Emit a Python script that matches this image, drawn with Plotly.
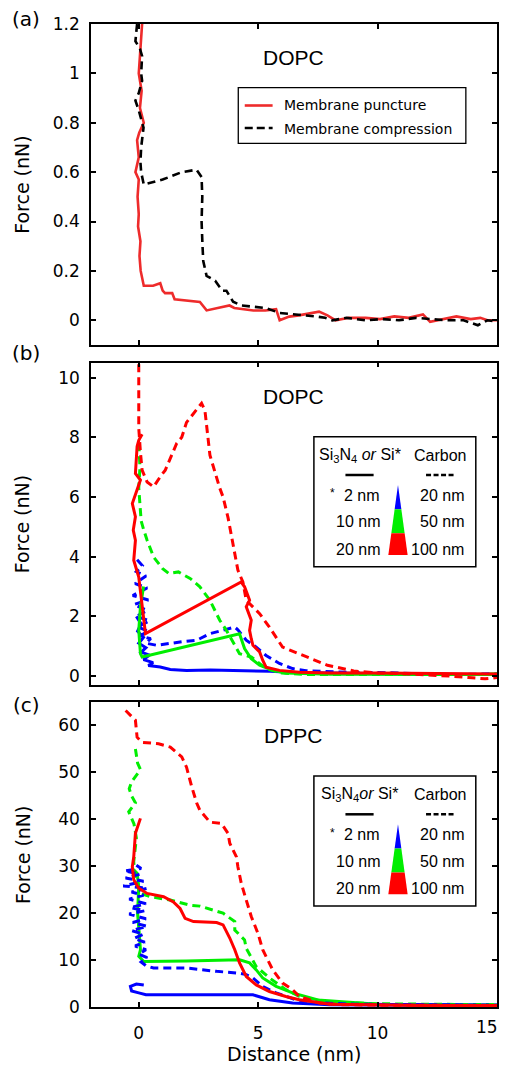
import plotly.graph_objects as go

# ---------------- data ----------------
# Panel (a) DOPC
a_punct_x = [0.14, 0.08, 0.0, 0.12, 0.05, 0.21, 0.02, -0.07, 0.0, -0.14, 0.0, -0.05, 0.0, -0.03, 0.07, 0.03, 0.08, 0.21,
             0.6, 0.9, 1.0, 1.1, 1.4, 1.5, 2.0, 2.56, 2.84, 3.3, 3.8, 4.0, 4.5, 4.8, 5.3, 5.75, 5.9, 6.3, 6.7, 7.2,
             7.55, 7.9, 8.24, 8.8, 9.5, 10.1, 10.7, 11.3, 11.9, 12.2, 12.8, 13.3, 13.9, 14.3, 14.6, 15.0]
a_punct_y = [1.2, 1.1, 1.0, 0.93, 0.86, 0.8, 0.76, 0.73, 0.66, 0.6, 0.57, 0.5, 0.43, 0.38, 0.32, 0.26, 0.2, 0.14,
             0.14, 0.15, 0.12, 0.11, 0.11, 0.085, 0.08, 0.074, 0.04, 0.05, 0.06, 0.05, 0.045, 0.04, 0.04, 0.045, 0.0,
             0.015, 0.02, 0.03, 0.035, 0.02, 0.0, 0.01, 0.01, 0.005, 0.016, 0.01, 0.024, -0.006, 0.005, 0.016, 0.005,
             0.01, 0.0, 0.0]
a_comp_x = [-0.07, -0.14, 0.05, 0.14, 0.1, 0.14, 0.0, -0.14, 0.0, 0.2, 0.1, 0.07, 0.1, 0.21, 1.0, 1.8, 2.42, 2.63,
            2.66, 2.63, 2.67, 2.7, 2.84, 3.2, 3.5, 3.67, 3.95, 4.3, 4.8, 5.3, 5.9, 6.5, 7.0, 7.4, 7.8, 8.1, 8.7,
            9.5, 10.2, 10.9, 11.6, 12.2, 12.9, 13.6, 14.2, 14.6, 15.0]
a_comp_y = [1.2, 1.13, 1.1, 1.07, 1.0, 0.97, 0.92, 0.89, 0.85, 0.78, 0.7, 0.64, 0.6, 0.55, 0.57, 0.6, 0.61, 0.58,
            0.5, 0.4, 0.3, 0.24, 0.18, 0.16, 0.12, 0.12, 0.075, 0.06, 0.055, 0.05, 0.03, 0.025, 0.02, 0.016, 0.01,
            0.0, 0.01, 0.0, 0.005, 0.0, 0.01, 0.005, 0.0, 0.0, -0.02, 0.0, -0.005]

# Panel (b) DOPC
b_red_dash_x = [0.0, 0.0, 0.0, 0.07, 0.14, 0.35, 0.49, 0.62, 0.9, 1.11, 1.59, 1.8, 2.0, 2.63, 2.77, 2.98, 3.39, 3.53,
                3.74, 3.95, 4.15, 4.36, 4.5, 5.06, 5.47, 6.02, 6.86, 7.9, 9.0, 10.0, 11.0, 12.0, 13.0, 13.8, 14.5, 15.0]
b_red_dash_y = [10.45, 9.4, 8.3, 7.5, 6.9, 6.5, 6.4, 6.34, 6.68, 6.9, 7.8, 8.0, 8.5, 9.14, 8.9, 7.4, 6.3, 6.0,
                5.3, 4.4, 3.55, 3.15, 2.54, 2.09, 1.64, 0.97, 0.69, 0.36, 0.17, 0.1, 0.08, 0.05, 0.0, -0.05, -0.09, -0.05]
b_red_sol_x = [0.14, 0.0, -0.07, -0.14, 0.07, -0.1, -0.27, -0.14, -0.23, -0.14, -0.21, 0.0, 0.14, 0.28, 4.29, 4.43,
               4.64, 4.5, 4.71, 4.64, 4.71, 4.78, 5.06, 5.19, 5.33, 5.89, 6.72, 8.0, 10.0, 12.0, 14.0, 15.0]
b_red_sol_y = [8.1, 7.9, 7.69, 6.79, 6.57, 6.2, 5.78, 5.34, 4.89, 4.55, 3.88, 3.32, 2.43, 1.42, 3.15, 2.99,
               2.54, 2.32, 1.87, 1.53, 1.25, 1.03, 0.81, 0.53, 0.3, 0.19, 0.13, 0.1, 0.1, 0.08, 0.07, 0.07]
b_grn_dash_x = [0.0, 0.05, 0.0, 0.05, 0.1, 0.21, 0.35, 0.62, 1.0, 1.25, 1.66, 2.15, 2.56, 2.98, 3.39, 3.67, 4.02,
                4.22, 4.71, 5.06, 5.33, 6.0, 7.0, 8.0, 10.0, 12.0, 14.0, 15.0]
b_grn_dash_y = [7.8, 7.0, 6.3, 5.6, 5.2, 4.89, 4.55, 3.99, 3.6, 3.44, 3.49, 3.27, 2.99, 2.54, 1.87, 1.53, 1.03,
                0.75, 0.64, 0.42, 0.25, 0.1, 0.05, 0.05, 0.05, 0.03, 0.05, 0.08]
b_grn_sol_x = [0.2, 0.07, 0.0, 0.07, 0.14, 4.22, 4.29, 4.43, 4.71, 5.06, 5.61, 6.16, 8.0, 10.0, 12.0, 15.0]
b_grn_sol_y = [3.0, 2.32, 1.53, 0.75, 0.64, 1.42, 1.25, 0.92, 0.58, 0.36, 0.19, 0.1, 0.06, 0.05, 0.05, 0.05]
b_blu_sol_x = [-0.1, 0.1, -0.05, 0.2, 0.0, 0.3, 0.1, 0.45, 0.2, 0.6, 0.4, 0.9, 1.32, 2.0, 3.0, 4.0, 5.0, 5.5, 6.5,
               8.0, 10.0, 12.0, 15.0]
b_blu_sol_y = [2.0, 1.75, 1.5, 1.3, 1.1, 0.95, 0.8, 0.7, 0.55, 0.45, 0.35, 0.3, 0.22, 0.19, 0.2, 0.19, 0.19, 0.16,
               0.12, 0.1, 0.08, 0.06, 0.05]
b_blu_dash_x = [-0.07, 0.15, -0.1, 0.3, -0.15, 0.35, -0.25, 0.4, -0.2, 0.35, -0.1, 0.45, -0.05, 0.4, 0.05, 0.5, 0.3,
                0.76, 1.8, 2.43, 2.98, 3.53, 4.02, 4.15, 4.5, 4.92, 5.33, 5.89, 6.44, 7.0, 8.0, 9.0, 10.0, 11.0, 12.0,
                13.0, 14.0, 15.0]
b_blu_dash_y = [3.9, 3.7, 3.5, 3.35, 3.1, 2.95, 2.7, 2.55, 2.4, 2.2, 2.0, 1.85, 1.65, 1.5, 1.35, 1.25, 1.1, 1.03,
                1.15, 1.2, 1.42, 1.53, 1.64, 1.55, 1.2, 0.97, 0.69, 0.42, 0.25, 0.18, 0.15, 0.12, 0.12, 0.1, 0.08,
                0.05, 0.06, 0.08]

# Panel (c) DPPC
c_red_dash_x = [-0.55, -0.14, -0.07, 0.14, 0.83, 1.32, 1.8, 2.0, 2.22, 2.43, 2.56, 2.98, 3.46, 3.74, 3.81, 4.09,
                4.15, 4.29, 4.5, 4.71, 4.99, 5.19, 5.61, 6.02, 6.44, 6.72, 7.55, 8.5, 10.0, 12.0, 14.0, 15.0]
c_red_dash_y = [63.2, 61.1, 57.5, 56.4, 56.1, 55.4, 53.3, 51.1, 46.9, 43.4, 41.9, 39.4, 39.1, 37.0, 34.9, 32.0,
                29.9, 26.4, 22.8, 19.3, 15.7, 12.2, 7.9, 5.1, 3.7, 2.25, 0.85, 0.5, 0.4, 0.3, 0.3, 0.3]
c_grn_dash_x = [-0.14, -0.05, 0.07, -0.3, -0.4, -0.3, -0.14, -0.42, -0.2, -0.1, -0.21, -0.15, 0.07, 0.5, 1.32, 2.15,
                2.56, 3.26, 3.53, 4.02, 4.02, 4.43, 4.5, 4.92, 5.47, 6.16, 6.72, 8.0, 10.0, 12.0, 15.0]
c_grn_dash_y = [55.0, 52.0, 50.6, 48.0, 46.5, 45.0, 43.5, 41.6, 39.0, 36.0, 31.0, 27.0, 24.2, 23.5, 22.8, 21.7,
                21.5, 20.3, 20.0, 18.2, 16.4, 14.3, 12.5, 8.6, 6.2, 3.7, 2.25, 1.0, 0.7, 0.6, 0.5]
c_red_sol_x = [0.07, -0.05, -0.14, -0.21, -0.27, -0.21, 0.0, 0.35, 1.04, 1.45, 1.73, 1.94, 2.29, 3.26, 3.53, 3.81,
               4.02, 4.22, 4.5, 4.92, 5.47, 6.16, 6.72, 8.0, 10.0, 12.0, 15.0]
c_red_sol_y = [40.2, 38.5, 37.0, 32.0, 29.9, 27.1, 25.3, 24.2, 23.5, 22.4, 21.0, 18.9, 18.2, 18.0, 17.5, 14.7,
               12.2, 9.4, 6.5, 4.7, 3.3, 2.25, 1.55, 0.6, 0.4, 0.3, 0.3]
c_grn_sol_x = [-0.27, -0.07, 0.0, -0.05, 0.03, 0.07, 0.0, 0.21, 2.0, 4.22, 4.64, 4.92, 5.19, 5.75, 6.44, 7.5, 10.0,
               12.0, 15.0]
c_grn_sol_y = [29.5, 28.5, 25.6, 20.0, 15.0, 12.2, 10.8, 9.7, 9.8, 10.05, 9.4, 7.9, 6.2, 4.4, 3.0, 1.5, 0.6, 0.5, 0.4]
c_blu_dash_x = [-0.1, 0.1, -0.6, 0.05, -0.55, 0.2, -0.65, 0.35, -0.3, 0.2, -0.4, 0.3, -0.35, 0.25, -0.4, 0.3, -0.25,
                0.35, -0.3, 0.2, -0.2, 0.25, -0.15, 0.3, 0.0, 0.35, 0.1, 0.3, 0.62, 2.0, 3.26, 4.22, 4.5, 4.78, 5.19,
                5.75, 6.58, 7.5, 9.0, 11.0, 13.0, 15.0]
c_blu_dash_y = [30.2, 29.5, 29.0, 28.3, 27.5, 26.8, 25.8, 25.3, 24.5, 23.8, 23.0, 22.0, 21.2, 20.5, 19.8, 18.8, 18.0,
                17.2, 16.3, 15.5, 14.6, 13.8, 13.0, 12.2, 11.3, 10.5, 9.6, 8.8, 8.3, 8.3, 7.6, 7.2, 6.9, 6.2, 4.4,
                3.0, 1.55, 0.9, 0.6, 0.5, 0.45, 0.4]
c_blu_sol_x = [0.21, -0.1, -0.35, -0.3, 0.0, 0.3, 2.0, 4.78, 5.47, 6.44, 8.0, 10.0, 12.0, 15.0]
c_blu_sol_y = [4.7, 4.9, 4.4, 3.4, 3.0, 2.6, 2.6, 2.6, 1.55, 0.85, 0.5, 0.4, 0.35, 0.3]

x_ticks = [0, 5, 10, 15]
x_ticklabels = ["0", "5", "10", ""]   # the edge label "15" is placed as an annotation so it stays on the page
x_edge_label = "15"
a_yticks = [0, 0.2, 0.4, 0.6, 0.8, 1.0, 1.2]
b_yticks = [0, 2, 4, 6, 8, 10]
c_yticks = [0, 10, 20, 30, 40, 50, 60]

# ---------------- layout helpers ----------------
# The page body adds an 8px margin on every side; the figure is sized so the
# page does not overflow the 511x1073 window. Positions below are window pixels.
OFF = 8
W, H = 511 - 2 * OFF, 1073 - 2 * OFF
PL = 91 - OFF
PT = 24 - OFF
PR = W - (499 - OFF)
PB = H - (1007 - OFF)
PW, PH = W - PL - PR, H - PT - PB


def xp(px):
    return (px - OFF - PL) / PW


def yp(py):
    return 1 - (py - OFF - PT) / PH


def clamp(v):
    return min(1.0, max(0.0, v))


RED_A = "#ee2b2b"
RED, GRN, BLU = "#ff0000", "#00ee00", "#0000ff"
DASH = "8px,5px"
LW = 3

fig = go.Figure()


def add(x, y, color, dash, ax, name, width=LW):
    fig.add_trace(go.Scatter(x=x, y=y, mode="lines", name=name, showlegend=False,
                             line=dict(color=color, width=width, dash=dash),
                             xaxis="x" + ax, yaxis="y" + ax, hoverinfo="skip"))


add(a_punct_x, a_punct_y, RED_A, "solid", "", "Membrane puncture", 2.6)
add(a_comp_x, a_comp_y, "black", DASH, "", "Membrane compression", 2.6)

add(b_blu_dash_x, b_blu_dash_y, BLU, DASH, "2", "Carbon 20 nm")
add(b_blu_sol_x, b_blu_sol_y, BLU, "solid", "2", "Si 2 nm")
add(b_grn_dash_x, b_grn_dash_y, GRN, DASH, "2", "Carbon 50 nm")
add(b_grn_sol_x, b_grn_sol_y, GRN, "solid", "2", "Si3N4 10 nm")
add(b_red_dash_x, b_red_dash_y, RED, DASH, "2", "Carbon 100 nm")
add(b_red_sol_x, b_red_sol_y, RED, "solid", "2", "Si3N4 20 nm")

add(c_grn_dash_x, c_grn_dash_y, GRN, DASH, "3", "Carbon 50 nm")
add(c_grn_sol_x, c_grn_sol_y, GRN, "solid", "3", "Si3N4 10 nm")
add(c_blu_dash_x, c_blu_dash_y, BLU, DASH, "3", "Carbon 20 nm")
add(c_blu_sol_x, c_blu_sol_y, BLU, "solid", "3", "Si 2 nm")
add(c_red_dash_x, c_red_dash_y, RED, DASH, "3", "Carbon 100 nm")
add(c_red_sol_x, c_red_sol_y, RED, "solid", "3", "Si3N4 20 nm")

TICKFONT = dict(family="DejaVu Sans", size=17, color="black")
axis_common = dict(showline=True, linecolor="black", linewidth=1.5, mirror="ticks", ticks="inside",
                   ticklen=5, tickwidth=1.5, tickcolor="black", showgrid=False, zeroline=False,
                   tickfont=TICKFONT)

dom_a = [clamp(yp(345)), clamp(yp(24))]
dom_b = [clamp(yp(685)), clamp(yp(362.7))]
dom_c = [clamp(yp(1007)), clamp(yp(702))]

fig.update_layout(
    width=W, height=H, autosize=False,
    margin=dict(l=PL, r=PR, t=PT, b=PB, pad=0),
    paper_bgcolor="white", plot_bgcolor="white",
    showlegend=False,
    xaxis=dict(domain=[0, 1], range=[-2, 15], tickvals=x_ticks, showticklabels=False, anchor="y", **axis_common),
    yaxis=dict(domain=dom_a, range=[-0.1, 1.2], tickvals=a_yticks, ticklabelstandoff=6, anchor="x",
               **axis_common),
    xaxis2=dict(domain=[0, 1], range=[-2, 15], tickvals=x_ticks, showticklabels=False, anchor="y2",
                **axis_common),
    yaxis2=dict(domain=dom_b, range=[-0.3, 10.5], tickvals=b_yticks, ticklabelstandoff=6, anchor="x2",
                **axis_common),
    xaxis3=dict(domain=[0, 1], range=[-2, 15], tickvals=x_ticks, ticktext=x_ticklabels, ticklabelstandoff=10,
                anchor="y3", **axis_common),
    yaxis3=dict(domain=dom_c, range=[0, 65], tickvals=c_yticks, ticklabelstandoff=6, anchor="x3",
                **axis_common),
)

ann = []
shapes = []


def text(px, py, s, size, family="DejaVu Sans", xanchor="center", angle=0, yanchor="middle"):
    ann.append(dict(x=xp(px), y=yp(py), xref="paper", yref="paper", text=s, showarrow=False,
                    xanchor=xanchor, yanchor=yanchor, textangle=angle,
                    font=dict(family=family, size=size, color="black")))


# edge tick label, kept just inside the page edge
text(502, 1027, x_edge_label, 17, xanchor="right")

# panel labels and titles
for lab, py in [("(a)", 19.5), ("(b)", 353), ("(c)", 705)]:
    text(26, py, lab, 20)
for lab, py in [("DOPC", 57), ("DOPC", 396), ("DPPC", 735)]:
    text(294, py, lab, 21, family="Liberation Sans")
for py in [184.5, 524, 854.7]:
    text(22, py, "Force (nN)", 19, angle=-90)
text(295, 1054, "Distance (nm)", 19)

# legend (a)
shapes.append(dict(type="rect", xref="paper", yref="paper", x0=xp(239), x1=xp(467.7), y0=yp(87.7), y1=yp(143.3),
                   line=dict(color="black", width=1.3), fillcolor="white", layer="above"))
shapes.append(dict(type="line", xref="paper", yref="paper", x0=xp(245.5), x1=xp(273.5), y0=yp(105.5), y1=yp(105.5),
                   line=dict(color=RED_A, width=2.6), layer="above"))
shapes.append(dict(type="line", xref="paper", yref="paper", x0=xp(245.5), x1=xp(273.5), y0=yp(128), y1=yp(128),
                   line=dict(color="black", width=2.6, dash="8px,4px"), layer="above"))
text(283, 105.5, "Membrane puncture", 14, xanchor="left")
text(283, 128.5, "Membrane compression", 14, xanchor="left")

# legends (b) and (c)
for top, header in [(362.7, "Si<sub>3</sub>N<sub>4</sub> <i>or</i> Si*"),
                    (702.0, "Si<sub>3</sub>N<sub>4</sub><i>or</i> Si*")]:
    shapes.append(dict(type="rect", xref="paper", yref="paper", x0=xp(315), x1=xp(477.7),
                       y0=yp(top + 74), y1=yp(top + 204), line=dict(color="black", width=1.5),
                       fillcolor="white", layer="above"))
    text(361, top + 92.3, header, 16, family="Liberation Sans")
    text(441.7, top + 92.3, "Carbon", 16, family="Liberation Sans")
    shapes.append(dict(type="line", xref="paper", yref="paper", x0=xp(346.7), x1=xp(375),
                       y0=yp(top + 112.3), y1=yp(top + 112.3), line=dict(color="black", width=2.5),
                       layer="above"))
    shapes.append(dict(type="line", xref="paper", yref="paper", x0=xp(427.7), x1=xp(456),
                       y0=yp(top + 112.3), y1=yp(top + 112.3), line=dict(color="black", width=2.5,
                                                                          dash="5px,2.5px"),
                       layer="above"))
    for dy, lt, rt in [(132.3, "2 nm", "20 nm"), (159.0, "10 nm", "50 nm"), (186.6, "20 nm", "100 nm")]:
        text(383.5, top + dy, lt, 16, family="Liberation Sans", xanchor="right")
        text(467.7, top + dy, rt, 16, family="Liberation Sans", xanchor="right")
    text(333.5, top + 130.5, "*", 12, family="Liberation Sans")
    # tapered tip-size indicator
    cx, ya, yb = 399.5, top + 122.3, top + 192.3
    hw = 9.7
    y1, y2 = top + 146.6, top + 170.6

    def wid(y):
        return hw * (y - ya) / (yb - ya)

    for (yt, ybot, col) in [(ya, y1, BLU), (y1, y2, GRN), (y2, yb, RED)]:
        pts = [(cx - wid(yt), yt), (cx + wid(yt), yt), (cx + wid(ybot), ybot), (cx - wid(ybot), ybot)]
        path = "M " + " L ".join(f"{xp(a):.5f},{yp(b):.5f}" for a, b in pts) + " Z"
        shapes.append(dict(type="path", xref="paper", yref="paper", path=path, fillcolor=col,
                           line=dict(width=0), layer="above"))

fig.update_layout(annotations=ann, shapes=shapes)
fig.write_html("out.html")
